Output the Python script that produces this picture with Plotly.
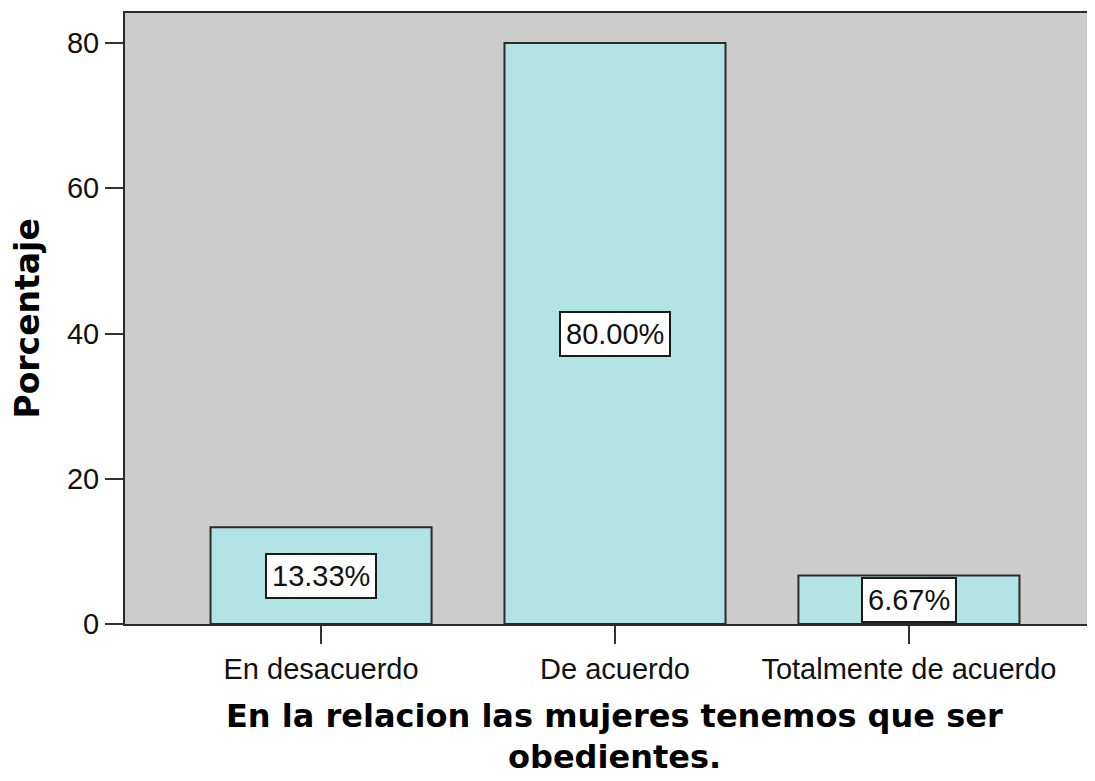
import plotly.graph_objects as go

categories = ['En desacuerdo', 'De acuerdo', 'Totalmente de acuerdo']
percentages = [13.33, 80.00, 6.67]
tick_values = [0, 20, 40, 60, 80]

x_title_lines = ['En la relacion las mujeres tenemos que ser', 'obedientes.']
y_title = 'Porcentaje'

tick_font = dict(family='Liberation Sans, Arial', size=29, color='#111111')
title_font = dict(family='DejaVu Sans', size=32, color='#000000')

fig = go.Figure(go.Bar(
    x=list(range(len(categories))),
    y=percentages,
    width=0.752,
    marker=dict(color='#b3e4e5', line=dict(color='#2a2a2a', width=2)),
))

# value labels in white boxes at the middle of each bar
for i, v in enumerate(percentages):
    fig.add_annotation(
        x=i, y=v / 2, xref='x', yref='y',
        text='{:.2f}%'.format(v), showarrow=False,
        font=tick_font, bgcolor='white',
        bordercolor='#1a1a1a', borderwidth=2, borderpad=5,
    )

# x title in two lines, kept tight like the original
fig.add_annotation(
    x=0.505, y=-0.1506, xref='paper', yref='paper',
    text='<b>' + x_title_lines[0] + '</b>', showarrow=False,
    font=title_font, xanchor='center', yanchor='middle',
)
fig.add_annotation(
    x=0.505, y=-0.2177, xref='paper', yref='paper',
    text='<b>' + x_title_lines[1] + '</b>', showarrow=False,
    font=title_font, xanchor='center', yanchor='middle',
)
fig.add_annotation(
    x=-0.101, y=0.5, xref='paper', yref='paper',
    text='<b>' + y_title + '</b>', showarrow=False, textangle=-90,
    font=dict(family='DejaVu Sans', size=33, color='#000000'),
    xanchor='center', yanchor='middle',
)

# page body has an 8px margin, so the figure is shrunk by that much
fig.update_layout(
    width=1087, height=773,
    margin=dict(l=117, r=0, t=5, b=157),
    plot_bgcolor='#cccccc', paper_bgcolor='white',
    showlegend=False,
    xaxis=dict(
        range=[-0.667, 2.633],
        tickvals=list(range(len(categories))), ticktext=categories,
        ticks='outside', ticklen=18, tickwidth=2, tickcolor='#333333',
        showline=True, linecolor='#2a2a2a', linewidth=2, mirror=True,
        showgrid=False, zeroline=False, tickfont=tick_font,
    ),
    yaxis=dict(
        range=[0, 84.13],
        tickvals=tick_values,
        ticks='outside', ticklen=18, tickwidth=2, tickcolor='#333333',
        showline=True, linecolor='#2a2a2a', linewidth=2,
        showgrid=False, zeroline=False, tickfont=tick_font,
    ),
)

fig.write_html('out.html')
